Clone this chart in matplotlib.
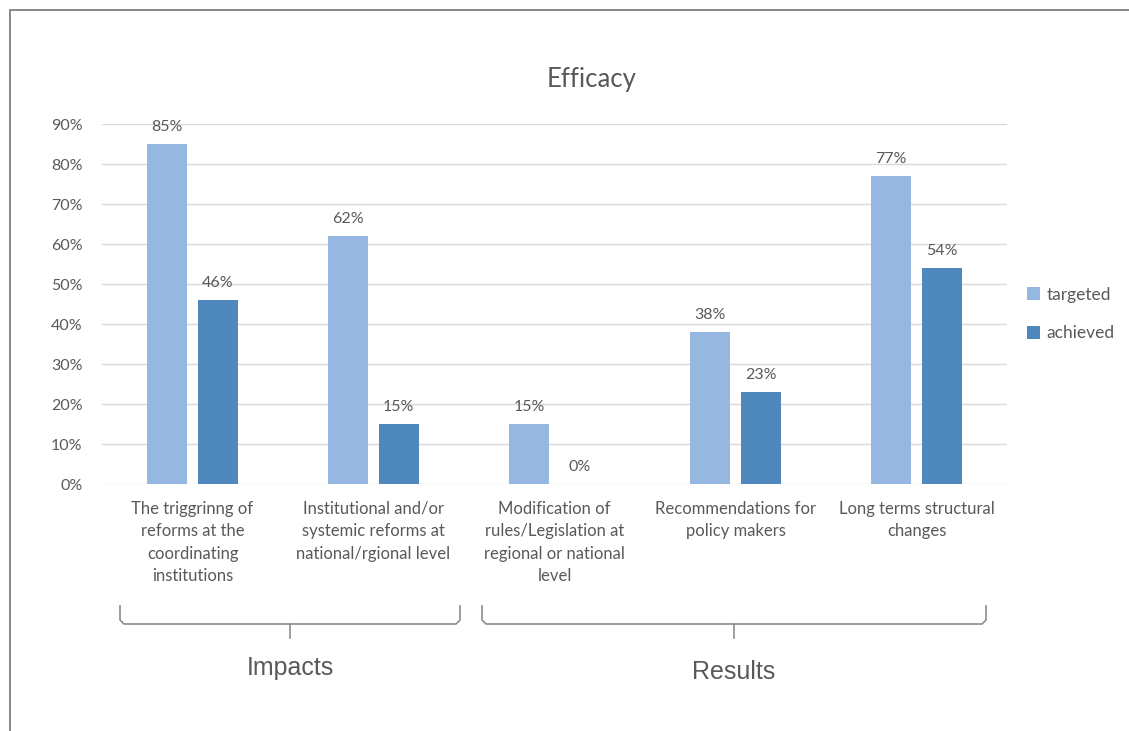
import matplotlib
matplotlib.use("Agg")
import matplotlib.pyplot as plt
from matplotlib.lines import Line2D
from matplotlib.patches import Rectangle
import numpy as np

categories = [
    "The triggrinng of\nreforms at the\ncoordinating\ninstitutions",
    "Institutional and/or\nsystemic reforms at\nnational/rgional level",
    "Modification of\nrules/Legislation at\nregional or national\nlevel",
    "Recommendations for\npolicy makers",
    "Long terms structural\nchanges",
]
targeted = [85, 62, 15, 38, 77]
achieved = [46, 15, 0, 23, 54]
series_names = ["targeted", "achieved"]
groups = [("Impacts", 0, 1), ("Results", 2, 4)]
yticks = [0, 10, 20, 30, 40, 50, 60, 70, 80, 90]

C_TARGET = "#95B7E0"
C_ACHIEVED = "#4F88BD"
TXT = "#595959"
FONT = ["Lato", "DejaVu Sans"]

W, H = 1129, 731
fig = plt.figure(figsize=(W / 100, H / 100), dpi=100)
fig.patch.set_facecolor("white")

def fx(px):
    return px / W

def fy(py):
    return 1 - py / H

ax = fig.add_axes([fx(102), fy(484), fx(1007) - fx(102), fy(124) - fy(484)])

x = np.arange(len(categories))
bw = 0.22
gap = 0.06
off = (bw + gap) / 2
b1 = ax.bar(x - off, targeted, bw, color=C_TARGET, label=series_names[0], zorder=3)
b2 = ax.bar(x + off, achieved, bw, color=C_ACHIEVED, label=series_names[1], zorder=3)

for bars, vals in ((b1, targeted), (b2, achieved)):
    for rect, v in zip(bars, vals):
        ax.annotate(f"{v}%", (rect.get_x() + rect.get_width() / 2, v),
                    xytext=(0, 7), textcoords="offset points",
                    ha="center", va="bottom", fontsize=11.5, color=TXT,
                    family=FONT)

ax.set_xlim(-0.5, len(categories) - 0.5)
ax.set_ylim(0, 90)
ax.set_yticks(yticks)
ax.set_yticklabels([f"{t}%" for t in yticks], fontsize=11.5, color=TXT, family=FONT)
ax.set_xticks(x)
ax.set_xticklabels(categories, fontsize=12, color=TXT, family=FONT,
                   linespacing=1.5, va="top")
ax.tick_params(axis="both", length=0)
ax.tick_params(axis="y", pad=14)
ax.tick_params(axis="x", pad=12)
for s in ax.spines.values():
    s.set_visible(False)
ax.yaxis.grid(True, color="#D9D9D9", linewidth=1, zorder=0)
ax.set_axisbelow(True)

fig.text(fx(592), fy(80), "Efficacy", ha="center", va="center",
         fontsize=18.5, color=TXT, family=FONT)

leg = fig.legend(handles=[b1, b2], labels=series_names, loc="center left",
                 bbox_to_anchor=(fx(1011), fy(314)), frameon=False,
                 handlelength=0.75, handleheight=0.75,
                 handletextpad=0.4, labelspacing=1.3,
                 prop={"family": FONT, "size": 12.5})
for t in leg.get_texts():
    t.set_color(TXT)

# group brackets under the category labels
bracket_px = {"Impacts": (120, 460, 290, 668), "Results": (482, 986, 734, 672)}
bc = "#8C8C8C"
for name, i0, i1 in groups:
    xl, xr, xc, ty = bracket_px[name]
    top, base, tip = 606, 624, 638
    xs = [fx(xl), fx(xl), fx(xl + 4), fx(xr - 4), fx(xr), fx(xr)]
    ys = [fy(top), fy(base - 4), fy(base), fy(base), fy(base - 4), fy(top)]
    fig.add_artist(Line2D(xs, ys, color=bc, linewidth=1.2, transform=fig.transFigure))
    fig.add_artist(Line2D([fx(xc), fx(xc)], [fy(base), fy(tip)], color=bc,
                          linewidth=1.2, transform=fig.transFigure))
    fig.text(fx(xc), fy(ty), name, ha="center", va="center", fontsize=18,
             color=TXT, family=["Liberation Sans", "DejaVu Sans"])

# outer frame
fig.add_artist(Rectangle((fx(10), -0.02), 1.05, fy(10) + 0.02, fill=False,
                         edgecolor="#7F7F7F", linewidth=1.3,
                         transform=fig.transFigure))

fig.savefig("out.png", dpi=100, facecolor="white")
